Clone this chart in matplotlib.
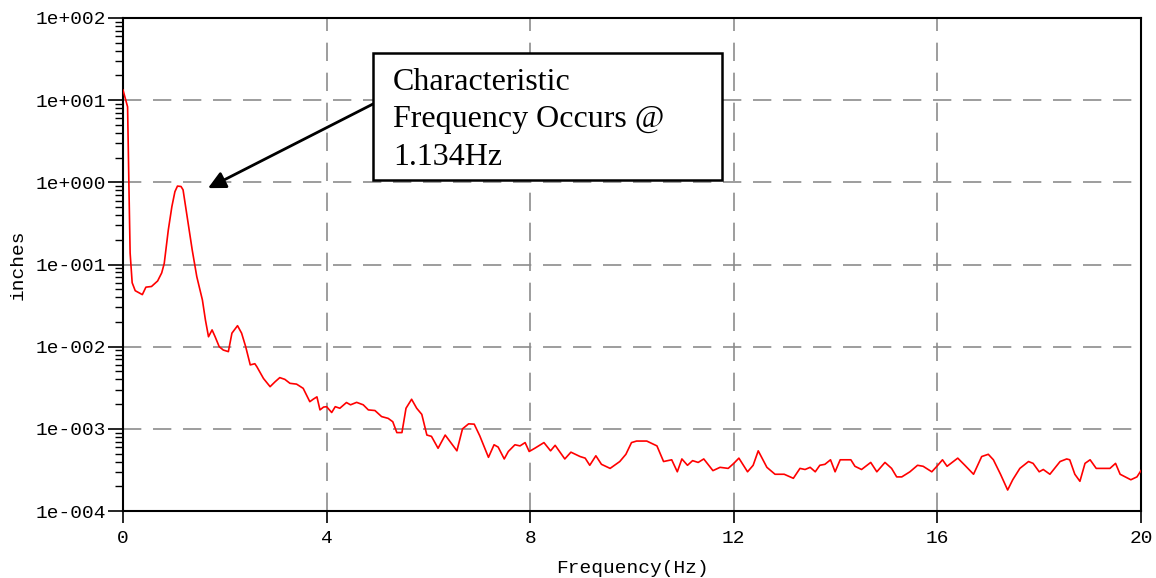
import matplotlib
matplotlib.use("Agg")
import matplotlib.pyplot as plt
from matplotlib.ticker import FixedLocator, FuncFormatter, LogLocator, NullFormatter
from matplotlib.patches import Rectangle
import numpy as np

# ---- data ----
freq_hz = [0.00, 0.09, 0.10, 0.12, 0.14, 0.18, 0.24, 0.38, 0.45, 0.56, 0.68, 0.76, 0.81, 0.89,
           0.96, 1.02, 1.07, 1.14, 1.18, 1.25, 1.36, 1.45, 1.56, 1.62, 1.68, 1.75, 1.81, 1.89,
           1.97, 2.07, 2.14, 2.25, 2.33, 2.41, 2.50, 2.59, 2.63, 2.76, 2.89, 2.99, 3.08, 3.18,
           3.28, 3.41, 3.54, 3.67, 3.74, 3.81, 3.87, 3.94, 4.00, 4.10, 4.17, 4.26, 4.39, 4.47,
           4.59, 4.72, 4.82, 4.95, 5.08, 5.21, 5.30, 5.38, 5.48, 5.56, 5.67, 5.77, 5.87, 5.97,
           6.06, 6.19, 6.33, 6.56, 6.67, 6.79, 6.90, 7.01, 7.18, 7.29, 7.37, 7.49, 7.57, 7.70,
           7.80, 7.90, 7.98, 8.09, 8.27, 8.40, 8.49, 8.68, 8.80, 8.98, 9.08, 9.17, 9.29, 9.40,
           9.57, 9.76, 9.88, 9.99, 10.09, 10.29, 10.49, 10.62, 10.78, 10.89, 10.98, 11.09, 11.19,
           11.30, 11.41, 11.59, 11.73, 11.89, 12.00, 12.10, 12.27, 12.38, 12.48, 12.65, 12.81,
           12.99, 13.17, 13.30, 13.40, 13.50, 13.60, 13.69, 13.79, 13.90, 13.99, 14.09, 14.30,
           14.38, 14.51, 14.69, 14.81, 14.97, 15.10, 15.20, 15.30, 15.46, 15.61, 15.72, 15.89,
           15.99, 16.10, 16.19, 16.40, 16.54, 16.71, 16.87, 17.00, 17.10, 17.24, 17.38, 17.48,
           17.62, 17.79, 17.88, 18.00, 18.08, 18.21, 18.41, 18.54, 18.60, 18.70, 18.80, 18.90,
           19.00, 19.12, 19.26, 19.39, 19.50, 19.59, 19.69, 19.80, 19.92, 20.00]

amplitude_in = [13.3, 8.3, 3.5, 0.67, 0.138, 0.060, 0.048, 0.043, 0.053, 0.054, 0.063, 0.079, 0.103, 0.263,
                0.506, 0.77, 0.90, 0.89, 0.81, 0.42, 0.150, 0.071, 0.037, 0.021, 0.0132, 0.016, 0.0132, 0.0100,
                0.0091, 0.0087, 0.0146, 0.0180, 0.0146, 0.0100, 0.0060, 0.0062, 0.0057, 0.0041, 0.00326, 0.00375, 0.0042, 0.0040,
                0.00358, 0.0035, 0.00311, 0.00214, 0.0023, 0.00245, 0.00170, 0.00184, 0.00186, 0.00158, 0.00186, 0.00178, 0.00209, 0.00196,
                0.00210, 0.00196, 0.00170, 0.00167, 0.00141, 0.00134, 0.00122, 0.00090, 0.00090, 0.00178, 0.00229, 0.00178, 0.00150, 0.00084,
                0.00081, 0.00058, 0.00084, 0.00054, 0.00100, 0.00115, 0.00114, 0.00082, 0.00045, 0.00064, 0.00060, 0.00043, 0.00053, 0.00064,
                0.00062, 0.00068, 0.00053, 0.00058, 0.00068, 0.00054, 0.00063, 0.00043, 0.00052, 0.00046, 0.00044, 0.00036, 0.00047, 0.00037,
                0.00033, 0.00040, 0.00049, 0.00068, 0.00071, 0.00071, 0.00062, 0.00040, 0.00042, 0.00030, 0.00043, 0.00036, 0.00041,
                0.00039, 0.00043, 0.00031, 0.00034, 0.00033, 0.00038, 0.00044, 0.00030, 0.00036, 0.00054, 0.00034, 0.00028,
                0.00028, 0.00025, 0.00033, 0.00032, 0.00034, 0.00030, 0.00036, 0.00037, 0.00042, 0.00030, 0.00042, 0.00042,
                0.00035, 0.00032, 0.00039, 0.00030, 0.00039, 0.00033, 0.00026, 0.00026, 0.00030, 0.00036, 0.00035, 0.00030,
                0.00035, 0.00042, 0.00035, 0.00044, 0.00036, 0.00028, 0.00046, 0.00049, 0.00042, 0.00028, 0.00018, 0.00024,
                0.00033, 0.00040, 0.00038, 0.00030, 0.00032, 0.00028, 0.00040, 0.00043, 0.00042, 0.00028, 0.00023, 0.00038,
                0.00042, 0.00033, 0.00033, 0.00033, 0.00038, 0.00028, 0.00026, 0.00024, 0.00026, 0.00031]

x_ticks = [0, 4, 8, 12, 16, 20]
y_ticks = [1e-4, 1e-3, 1e-2, 1e-1, 1e0, 1e1, 1e2]
x_label = "Frequency(Hz)"
y_label = "inches"
note_text = "Characteristic\nFrequency Occurs @\n1.134Hz"
peak_arrow_tip = (1.67, 0.85)

# ---- figure ----
W, H = 1156, 578
PX = 0.72  # points per pixel at dpi 100
fig = plt.figure(figsize=(W / 100, H / 100), dpi=100)
ax = fig.add_axes([123 / W, 1 - 511 / H, (1141 - 123) / W, (511 - 18) / H])

mono = "Liberation Mono"
fs = 14

ax.plot(freq_hz, amplitude_in, color="#ff0000", lw=1.2, zorder=3)
ax.set_yscale("log")
ax.set_xlim(0, 20)
ax.set_ylim(1e-4, 1e2)

ax.xaxis.set_major_locator(FixedLocator(x_ticks))
ax.yaxis.set_major_locator(FixedLocator(y_ticks))
ax.yaxis.set_minor_locator(LogLocator(base=10, subs=np.arange(2, 10)))
ax.yaxis.set_minor_formatter(NullFormatter())
ax.xaxis.set_major_formatter(FuncFormatter(lambda v, p: f"{int(round(v))}"))
ax.yaxis.set_major_formatter(FuncFormatter(lambda v, p: f"1e{int(round(np.log10(v))):+04d}"))

ax.tick_params(axis="y", which="major", direction="out", length=15 * PX, width=1.2, pad=2 * PX, labelsize=fs)
ax.tick_params(axis="y", which="minor", direction="out", length=8 * PX, width=1.0)
ax.tick_params(axis="x", which="major", direction="out", length=12 * PX, width=1.2, pad=7 * PX, labelsize=fs)
for lab in ax.get_xticklabels() + ax.get_yticklabels():
    lab.set_fontfamily(mono)

for s in ax.spines.values():
    s.set_linewidth(1.5)
    s.set_color("black")

ax.grid(True, which="major", color="#8c8c8c", lw=1.2, linestyle=(0, (11, 7)))
ax.set_axisbelow(True)

ax.set_xlabel(x_label, family=mono, fontsize=fs, labelpad=13 * PX)
ax.set_ylabel(y_label, family=mono, fontsize=fs, labelpad=9 * PX)

# annotation box (figure pixel layout)
bx0, by0, bx1, by1 = 373, 53, 722, 180
rect = Rectangle((bx0 / W, 1 - by1 / H), (bx1 - bx0) / W, (by1 - by0) / H,
                 transform=fig.transFigure, facecolor="white", edgecolor="black",
                 lw=1.8, zorder=5)
fig.patches.append(rect)
fig.text(393 / W, 1 - 68 / H, note_text, family="Liberation Serif", fontsize=23,
         va="top", ha="left", linespacing=1.38, zorder=6)

ax.annotate("", xy=peak_arrow_tip, xycoords="data",
            xytext=(bx0 / W, 1 - 104 / H), textcoords="figure fraction",
            arrowprops=dict(arrowstyle="-|>", color="black", lw=2.0,
                            mutation_scale=26, shrinkA=0, shrinkB=0),
            zorder=4)

fig.savefig("out.png", dpi=100)
